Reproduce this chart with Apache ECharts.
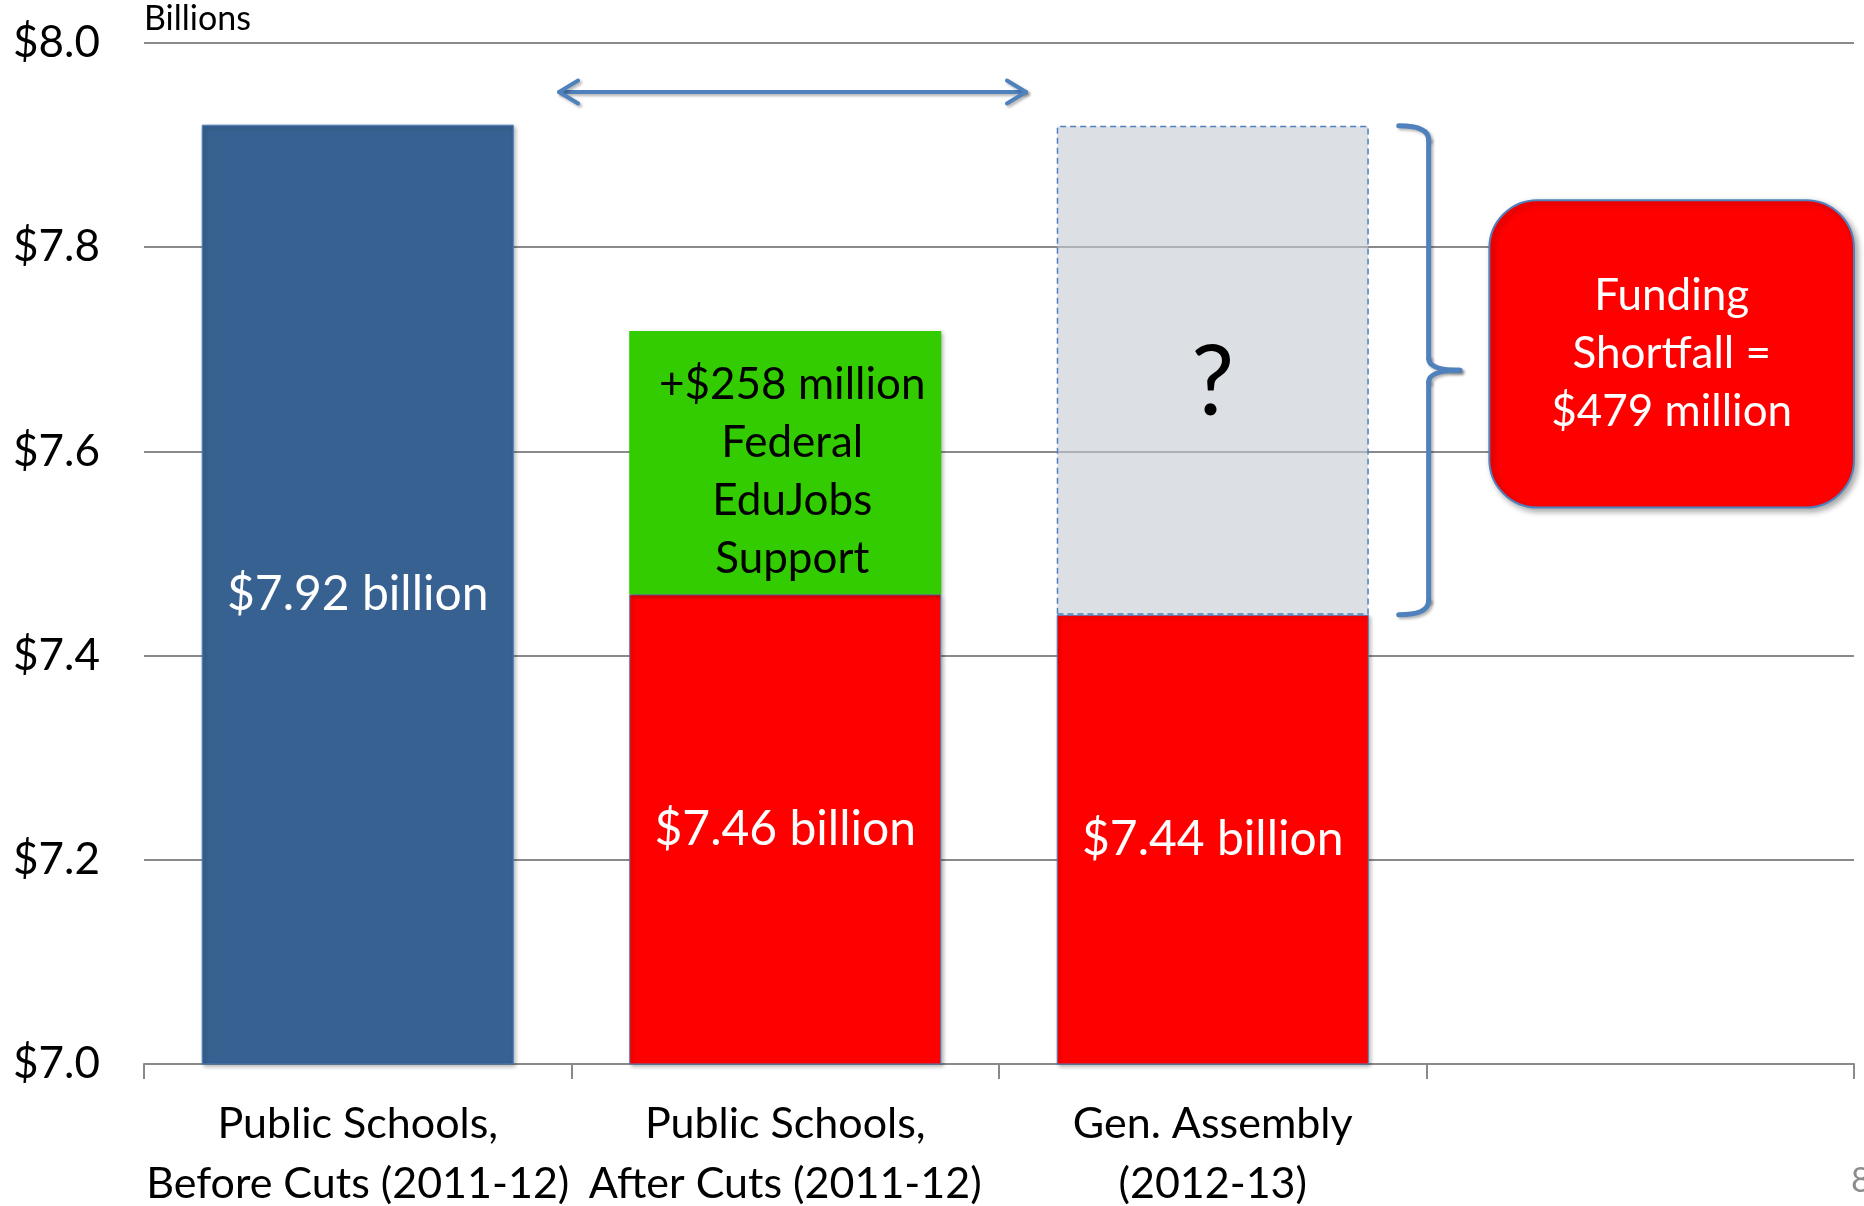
<!DOCTYPE html>
<html>
<head>
<meta charset="utf-8">
<title>Public school funding</title>
<script src="https://cdn.jsdelivr.net/npm/echarts@6/dist/echarts.min.js"></script>
<style>
    html, body { margin: 0; padding: 0; background: #fff; }
    #chart { width: 1864px; height: 1206px; }
</style>
</head>
<body>
<div id="chart"></div>
<script>
// data (billions of dollars)
var categories = ['Public Schools,\nBefore Cuts (2011-12)', 'Public Schools,\nAfter Cuts (2011-12)', 'Gen. Assembly\n(2012-13)', ''];
var baseValues = [7.92, 7.46, 7.44, null];
var eduJobsValues = [null, 0.258, null, null];
var shortfallValues = [null, null, 0.479, null];
var eduJobsNote = ['Federal', 'EduJobs', 'Support'];
var shortfallNote = ['Funding', 'Shortfall ='];
var yMin = 7.0, yMax = 8.0, yStep = 0.2;

var FONT = 'Lato, "Open Sans", sans-serif';
var baseColors = ['#376190', '#ff0000', '#ff0000', '#ff0000'];
var blueLine = '#4f81bd';

var myChart = echarts.init(document.getElementById('chart'));

var barShadow = {
    shadowColor: 'rgba(0,0,0,0.3)',
    shadowBlur: 4,
    shadowOffsetX: 2,
    shadowOffsetY: 2
};

var option = {
    animation: false,
    textStyle: { fontFamily: FONT },
    grid: { left: 144, right: 10, top: 43, bottom: 142, containLabel: false, outerBoundsMode: 'none' },
    xAxis: {
        type: 'category',
        data: categories,
        axisLine: { lineStyle: { color: '#8a8a8a', width: 2 } },
        axisTick: { show: true, interval: 0, length: 15, lineStyle: { color: '#8a8a8a', width: 2 } },
        axisLabel: {
            interval: 0,
            margin: 30,
            color: '#000',
            fontSize: 43,
            lineHeight: 60,
            fontFamily: FONT
        }
    },
    yAxis: {
        type: 'value',
        min: yMin,
        max: yMax,
        interval: yStep,
        name: 'Billions',
        nameLocation: 'end',
        nameGap: 7,
        nameTextStyle: { align: 'left', verticalAlign: 'bottom', color: '#000', fontSize: 34, fontFamily: FONT },
        axisLine: { show: false },
        axisTick: { show: false },
        axisLabel: {
            color: '#000',
            fontSize: 44,
            margin: 44,
            fontFamily: FONT,
            formatter: function (v) { return '$' + v.toFixed(1); }
        },
        splitLine: { lineStyle: { color: '#8a8a8a', width: 2 } }
    },
    series: [
        {
            name: 'Base',
            type: 'bar',
            stack: 'total',
            barWidth: '73%',
            data: baseValues.map(function (v, i) {
                return {
                    value: v,
                    itemStyle: Object.assign({ color: baseColors[i], borderColor: blueLine, borderWidth: 1 }, barShadow)
                };
            }),
            label: {
                show: true,
                position: 'inside',
                color: '#fff',
                fontSize: 48,
                fontFamily: FONT,
                formatter: function (p) { return '$' + p.value.toFixed(2) + ' billion'; }
            }
        },
        {
            name: 'EduJobs',
            type: 'bar',
            stack: 'total',
            barWidth: '73%',
            data: eduJobsValues,
            itemStyle: Object.assign({ color: '#33cc00' }, barShadow),
            label: {
                show: true,
                position: 'inside',
                offset: [7, 9],
                color: '#000',
                fontSize: 44,
                lineHeight: 58,
                fontFamily: FONT,
                formatter: function (p) {
                    return '+$' + Math.round(p.value * 1000) + ' million\n' + eduJobsNote.join('\n');
                }
            }
        },
        {
            name: 'Shortfall',
            type: 'bar',
            stack: 'total',
            barWidth: '73%',
            data: shortfallValues,
            itemStyle: {
                color: 'rgba(197,202,210,0.6)',
                borderColor: blueLine,
                borderWidth: 1.5,
                borderType: [6, 4]
            },
            label: {
                show: true,
                position: 'inside',
                offset: [0, 14],
                color: '#000',
                fontSize: 96,
                fontFamily: FONT,
                formatter: '?'
            }
        }
    ]
};

myChart.setOption(option);

// annotations positioned from the axes
function px(cat, frac, val) {
    var c0 = myChart.convertToPixel({ xAxisIndex: 0 }, 0);
    var c1 = myChart.convertToPixel({ xAxisIndex: 0 }, 1);
    var band = c1 - c0;
    var x = myChart.convertToPixel({ xAxisIndex: 0 }, cat) + frac * band;
    var y = myChart.convertToPixel({ yAxisIndex: 0 }, val);
    return [x, y];
}

var lineShadow = { shadowColor: 'rgba(0,0,0,0.3)', shadowBlur: 3, shadowOffsetX: 2, shadowOffsetY: 2 };
function stroke(w) {
    return Object.assign({ stroke: blueLine, lineWidth: w, fill: null, lineCap: 'round', lineJoin: 'round' }, lineShadow);
}

var aL = px(0, 0.471, 7.952);
var aR = px(2, -0.437, 7.952);
var head = 19, spread = 11.5;

// curly brace spanning the shortfall segment
var shortTop = baseValues[2] + shortfallValues[2];
var shortBot = baseValues[2];
var bTop = px(2, 0.435, shortTop);
var bBot = px(2, 0.435, shortBot);
var bMid = px(2, 0.578, (shortTop + shortBot) / 2);
var xc = px(2, 0.505, shortTop)[0];
var xl = bTop[0], xt = bMid[0];
var yt = bTop[1], yb = bBot[1], ym = bMid[1];

var braceParts = [
    { type: 'bezierCurve', shape: { x1: xl, y1: yt, cpx1: xc, cpy1: yt, x2: xc, y2: yt + 14 }, style: stroke(5) },
    { type: 'line', shape: { x1: xc, y1: yt + 14, x2: xc, y2: ym - 12 }, style: stroke(5) },
    { type: 'bezierCurve', shape: { x1: xc, y1: ym - 12, cpx1: xc, cpy1: ym, x2: xt, y2: ym }, style: stroke(5) },
    { type: 'bezierCurve', shape: { x1: xt, y1: ym, cpx1: xc, cpy1: ym, x2: xc, y2: ym + 12 }, style: stroke(5) },
    { type: 'line', shape: { x1: xc, y1: ym + 12, x2: xc, y2: yb - 14 }, style: stroke(5) },
    { type: 'bezierCurve', shape: { x1: xc, y1: yb - 14, cpx1: xc, cpy1: yb, x2: xl, y2: yb }, style: stroke(5) }
];

var boxTL = px(3, -0.353, 7.846);
var boxBR = px(3, 0.5, 7.545);

myChart.setOption({
    graphic: [
        { type: 'line', shape: { x1: aL[0], y1: aL[1], x2: aR[0], y2: aR[1] }, style: stroke(4) },
        { type: 'polyline', shape: { points: [[aL[0] + head, aL[1] - spread], aL, [aL[0] + head, aL[1] + spread]] }, style: stroke(4) },
        { type: 'polyline', shape: { points: [[aR[0] - head, aR[1] - spread], aR, [aR[0] - head, aR[1] + spread]] }, style: stroke(4) }
    ].concat(braceParts).concat([
        {
            type: 'rect',
            shape: { x: boxTL[0], y: boxTL[1], width: boxBR[0] - boxTL[0], height: boxBR[1] - boxTL[1], r: 48 },
            style: {
                fill: '#ff0000',
                stroke: blueLine,
                lineWidth: 2,
                shadowColor: 'rgba(0,0,0,0.35)',
                shadowBlur: 6,
                shadowOffsetX: 3,
                shadowOffsetY: 3
            },
            z: 10
        },
        {
            type: 'text',
            x: (boxTL[0] + boxBR[0]) / 2,
            y: (boxTL[1] + boxBR[1]) / 2,
            style: {
                text: shortfallNote.join('\n') + '\n$' + Math.round(shortfallValues[2] * 1000) + ' million',
                fill: '#fff',
                font: '44px ' + FONT,
                lineHeight: 58,
                align: 'center',
                verticalAlign: 'middle'
            },
            z: 11
        },
        {
            type: 'text',
            x: 1851,
            y: 1164,
            style: { text: '8', fill: '#8c8c8c', font: '34px ' + FONT }
        }
    ])
});
</script>
</body>
</html>
